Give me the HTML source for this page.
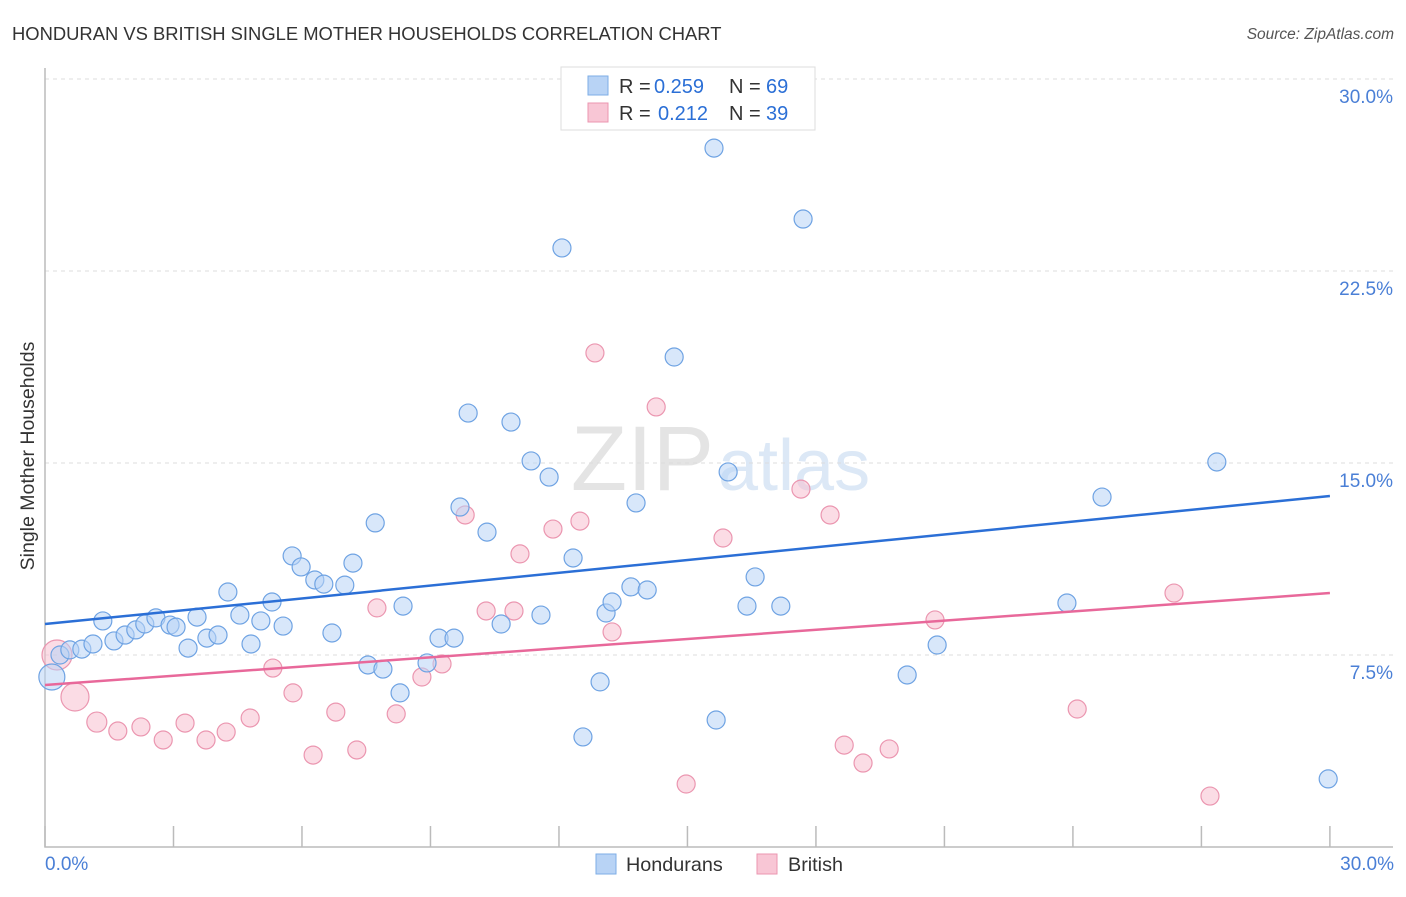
<!DOCTYPE html>
<html><head><meta charset="utf-8"><style>
body{margin:0;background:#fff;font-family:"Liberation Sans",sans-serif;}
svg text{font-family:"Liberation Sans",sans-serif;}
</style></head><body>
<svg id="c" width="1406" height="892">
<text x="12" y="40" font-size="18.4" fill="#333">HONDURAN VS BRITISH SINGLE MOTHER HOUSEHOLDS CORRELATION CHART</text>
<text x="1394" y="39" font-size="15.5" fill="#555" font-style="italic" text-anchor="end">Source: ZipAtlas.com</text>
<text x="714" y="490" font-size="92" fill="#e4e4e4" font-family="Liberation Serif" text-anchor="end">ZIP</text>
<text x="718" y="490" font-size="72" fill="#dce8f6">atlas</text>
<g id="grid"></g><g id="axes"></g><g id="marks"></g>
<text transform="translate(34,456) rotate(-90)" font-size="19.5" fill="#333" text-anchor="middle">Single Mother Households</text>
<text x="45" y="870" font-size="19" fill="#4a7fd6">0.0%</text>
<text x="1394" y="870" font-size="19" fill="#4a7fd6" text-anchor="end">30.0%</text>
<g>
<rect x="561" y="67" width="254" height="63" fill="#fff" stroke="#ddd"/>
<rect x="588" y="76" width="20" height="19" fill="#b8d3f5" stroke="#7eaee6"/>
<rect x="588" y="103" width="20" height="19" fill="#f8c6d5" stroke="#eb96b0"/>
<text x="619" y="93" font-size="20" fill="#333">R =</text>
<text x="654" y="93" font-size="20" fill="#2b6fd6">0.259</text>
<text x="729" y="93" font-size="20" fill="#333">N =</text>
<text x="766" y="93" font-size="20" fill="#2b6fd6">69</text>
<text x="619" y="120" font-size="20" fill="#333">R =</text>
<text x="658" y="120" font-size="20" fill="#2b6fd6">0.212</text>
<text x="729" y="120" font-size="20" fill="#333">N =</text>
<text x="766" y="120" font-size="20" fill="#2b6fd6">39</text>
</g>
<g>
<rect x="596" y="854" width="20" height="20" fill="#b8d3f5" stroke="#7eaee6"/>
<text x="626" y="871" font-size="19.8" fill="#333">Hondurans</text>
<rect x="757" y="854" width="20" height="20" fill="#f8c6d5" stroke="#eb96b0"/>
<text x="788" y="871" font-size="19.8" fill="#333">British</text>
</g>
</svg>
<script>
const yTicks=[7.5,15,22.5,30];
const yTickLabels=["7.5%","15.0%","22.5%","30.0%"];
const xTicks=[0,3,6,9,12,15,18,21,24,27,30];
const blueX=[.16,.35,.58,.86,1.12,1.35,1.61,1.87,2.12,2.33,2.59,2.92,3.06,3.34,3.55,3.78,4.04,4.27,4.55,4.81,5.04,5.3,5.56,5.77,5.98,6.3,6.51,6.7,7.0,7.19,7.54,7.71,7.89,8.29,8.36,8.92,9.2,9.55,9.69,9.88,10.32,10.65,10.88,11.35,11.58,11.77,12.07,12.33,12.56,12.96,13.1,13.24,13.68,13.8,14.06,14.69,15.62,15.67,15.95,16.39,16.58,17.18,17.7,20.13,20.83,23.86,24.68,27.36,29.96];
const blueY=[6.64,7.5,7.7,7.73,7.93,8.83,8.05,8.28,8.48,8.71,8.95,8.67,8.59,7.77,8.98,8.16,8.28,9.96,9.06,7.93,8.83,9.57,8.63,11.37,10.94,10.43,10.27,8.36,10.23,11.09,7.11,12.66,6.95,6.02,9.41,7.19,8.16,8.16,13.28,16.95,12.3,8.71,16.6,15.08,9.06,14.45,23.4,11.29,4.3,6.45,9.14,9.57,10.16,13.44,10.04,19.14,27.3,4.96,14.65,9.41,10.55,9.41,24.53,6.72,7.89,9.53,13.67,15.04,2.66];
const blueSize=[13,9,9,9,9,9,9,9,9,9,9,9,9,9,9,9,9,9,9,9,9,9,9,9,9,9,9,9,9,9,9,9,9,9,9,9,9,9,9,9,9,9,9,9,9,9,9,9,9,9,9,9,9,9,9,9,9,9,9,9,9,9,9,9,9,9,9,9,9];
const pinkX=[.28,.7,1.21,1.7,2.24,2.76,3.27,3.76,4.23,4.79,5.32,5.79,6.26,6.79,7.28,7.75,8.2,8.8,9.27,9.81,10.3,10.95,11.09,11.86,12.49,12.84,13.24,14.27,14.97,15.83,17.65,18.33,18.66,19.1,19.71,20.78,24.1,26.36,27.2];
const pinkY=[7.5,5.86,4.88,4.53,4.69,4.18,4.84,4.18,4.49,5.04,6.99,6.02,3.59,5.27,3.79,9.34,5.2,6.64,7.15,12.97,9.22,9.22,11.45,12.42,12.73,19.3,8.4,17.19,2.46,12.07,13.98,12.97,3.98,3.28,3.83,8.87,5.39,9.92,1.99];
const pinkSize=[15,14,10,9,9,9,9,9,9,9,9,9,9,9,9,9,9,9,9,9,9,9,9,9,9,9,9,9,9,9,9,9,9,9,9,9,9,9,9];
const blueLine=[8.71,13.71];
const pinkLine=[6.33,9.92];
const NS="http://www.w3.org/2000/svg";
const xs=v=>45+v*42.83, ys=v=>847-v*25.6;
function mk(t,a,p){const e=document.createElementNS(NS,t);for(const k in a)e.setAttribute(k,a[k]);document.getElementById(p).appendChild(e);return e;}
yTicks.forEach((t,i)=>{
 const l=mk('line',{x1:45,x2:1393,y1:ys(t),y2:ys(t),stroke:'#ddd','stroke-dasharray':'4,4'},'grid');
 
 
 const tx=mk('text',{x:1393,y:ys(t)+24,'font-size':19,fill:'#4a7fd6','text-anchor':'end'},'grid');
 tx.textContent=yTickLabels[i];
 
 
});
const ax=mk('path',{d:'M45,68V847H1393',fill:'none',stroke:'#bbb','stroke-width':1.5},'axes');


xTicks.forEach(t=>{
 const l=mk('line',{x1:xs(t),x2:xs(t),y1:826,y2:847,stroke:'#bbb','stroke-width':1.5},'axes');
 
 
});
function pts(X,Y,S,f,s,n){X.forEach((x,i)=>{
 const c=mk('circle',{cx:xs(x),cy:ys(Y[i]),r:S[i],fill:f,'fill-opacity':0.55,stroke:s,'stroke-width':1.2},'marks');
 
 
});}
pts(pinkX,pinkY,pinkSize,'#f8c0d0','#eb96b0','british-point');
pts(blueX,blueY,blueSize,'#b8d3f5','#6fa3e3','honduran-point');
const bl=mk('line',{x1:xs(0),y1:ys(blueLine[0]),x2:xs(30),y2:ys(blueLine[1]),stroke:'#2b6fd6','stroke-width':2.5},'marks');


const pl=mk('line',{x1:xs(0),y1:ys(pinkLine[0]),x2:xs(30),y2:ys(pinkLine[1]),stroke:'#e8689a','stroke-width':2.5},'marks');


</script>
</body></html>
